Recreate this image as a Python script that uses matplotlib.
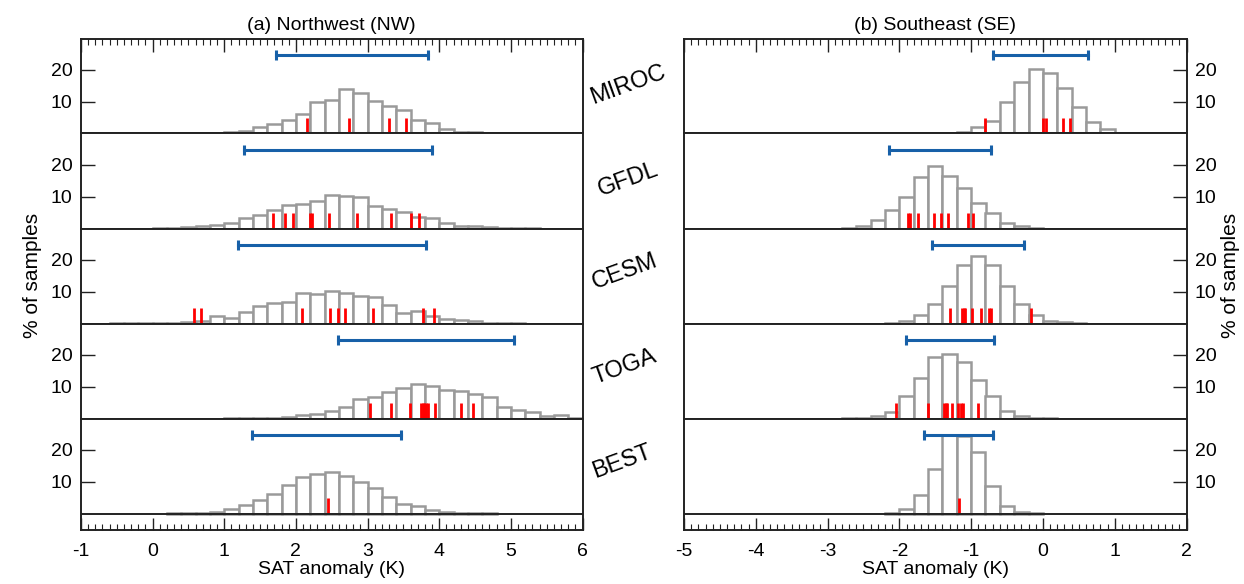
import numpy as np
import matplotlib
matplotlib.use('Agg')
import matplotlib.pyplot as plt
from matplotlib.ticker import MultipleLocator

plt.rcParams['font.family'] = ['Liberation Sans', 'DejaVu Sans']
plt.rcParams['axes.unicode_minus'] = False

MODELS = ['MIROC', 'GFDL', 'CESM', 'TOGA', 'BEST']
BIN_WIDTH = 0.2

# Northwest: first bin left edge, % of samples per bin, single runs, 5-95% range
nw_start = [0.6, 0.0, -0.6, 1.0, 0.2]
nw_miroc_pct = [0.2, 0.3, 0.5, 0.8, 2.1, 2.9, 4.3, 6.2, 9.8, 10.5, 13.8, 12.7, 10.3, 8.5,
                7.4, 4.2, 3.4, 1.3, 0.5, 0.5, 0.2, 0.2]
nw_gfdl_pct = [0.1, 0.2, 0.5, 0.8, 1.05, 1.6, 3.3, 4.1, 5.7, 7.4, 7.7, 8.7, 10.5, 10.3, 9.7,
               7.1, 6.2, 5.3, 3.7, 3.2, 1.6, 0.7, 0.8, 0.4, 0.2, 0.1, 0.1]
nw_cesm_pct = [0.1, 0.1, 0.2, 0.2, 0.2, 0.6, 0.8, 2.3, 1.6, 3.6, 5.6, 6.5, 6.7, 9.5, 9.3,
               10.2, 9.6, 8.7, 8.4, 5.8, 3.2, 3.9, 2.3, 1.4, 1.05, 0.7, 0.3, 0.2, 0.1]
nw_toga_pct = [0.1, 0.2, 0.3, 0.3, 0.4, 1.05, 1.4, 2.4, 3.5, 6.1, 6.8, 8.4, 9.5, 10.9, 10.2,
               8.9, 8.6, 7.7, 6.6, 3.6, 2.6, 1.9, 0.7, 1.05, 0.3]
nw_best_pct = [0.1, 0.1, 0.2, 0.5, 1.4, 2.8, 4.1, 6.0, 8.8, 11.5, 12.4, 13.1, 11.7, 9.9,
               8.0, 5.2, 2.9, 2.3, 1.05, 0.4, 0.3, 0.3, 0.1]
nw_miroc_runs = [2.16, 2.74, 3.30, 3.53]
nw_gfdl_runs = [1.68, 1.85, 1.96, 2.19, 2.22, 2.46, 2.85, 3.33, 3.60, 3.72]
nw_cesm_runs = [0.58, 0.67, 2.09, 2.47, 2.59, 2.69, 3.07, 3.78, 3.93]
nw_toga_runs = [3.04, 3.33, 3.59, 3.75, 3.77, 3.79, 3.81, 3.84, 3.94, 4.31, 4.47]
nw_best_runs = [2.45]
nw_ranges = [(1.72, 3.85), (1.27, 3.90), (1.19, 3.82), (2.59, 5.05), (1.39, 3.47)]

# Southeast
se_start = [-1.4, -2.8, -2.2, -2.8, -2.2]
se_miroc_pct = [0.2, 0.5, 2.1, 4.0, 10.0, 16.0, 20.1, 18.9, 14.2, 8.4, 3.7, 1.3, 0.2, 0.1, 0.2]
se_gfdl_pct = [0.3, 0.9, 2.8, 5.8, 10.0, 16.1, 19.4, 16.5, 12.8, 8.1, 4.9, 1.6, 0.8, 0.2]
se_cesm_pct = [0.2, 0.8, 2.6, 6.1, 11.8, 18.2, 21.2, 18.2, 11.6, 6.0, 2.6, 0.9, 0.4, 0.1]
se_toga_pct = [0.1, 0.2, 0.7, 2.1, 7.1, 12.6, 19.2, 20.3, 17.6, 12.1, 7.1, 2.2, 0.7, 0.3, 0.2]
se_best_pct = [0.3, 1.3, 5.8, 13.9, 24.5, 24.3, 19.3, 8.6, 2.4, 0.5, 0.1]
se_miroc_runs = [-0.81, 0.0, 0.04, 0.28, 0.38]
se_gfdl_runs = [-1.88, -1.85, -1.74, -1.52, -1.42, -1.32, -1.04, -0.97]
se_cesm_runs = [-1.29, -1.13, -1.10, -1.08, -0.99, -0.86, -0.75, -0.72, -0.16]
se_toga_runs = [-2.04, -1.60, -1.38, -1.35, -1.33, -1.27, -1.18, -1.14, -1.11, -0.91]
se_best_runs = [-1.17]
se_ranges = [(-0.69, 0.63), (-2.15, -0.73), (-1.54, -0.26), (-1.91, -0.68), (-1.66, -0.70)]

nw_pct = [nw_miroc_pct, nw_gfdl_pct, nw_cesm_pct, nw_toga_pct, nw_best_pct]
nw_runs = [nw_miroc_runs, nw_gfdl_runs, nw_cesm_runs, nw_toga_runs, nw_best_runs]
se_pct = [se_miroc_pct, se_gfdl_pct, se_cesm_pct, se_toga_pct, se_best_pct]
se_runs = [se_miroc_runs, se_gfdl_runs, se_cesm_runs, se_toga_runs, se_best_runs]

GRAY = '#9a9a9a'
BLUE = '#1760a8'
RED = '#ff0000'
SPINE = '#222222'

W, H = 1244, 584
fig = plt.figure(figsize=(W / 100, H / 100), dpi=100)

PANEL_TOP = 38.5
PANEL_H = 95.0
YTOP = 29.7
BOTTOM_PAD = 5.2
px_per_unit = PANEL_H / YTOP


def make_column(x0, x1, xlim, starts, pcts, runs, ranges, side):
    axes = []
    for i in range(5):
        top = PANEL_TOP + PANEL_H * i
        ylo = 0.0
        h = PANEL_H
        if i == 4:
            ylo = -BOTTOM_PAD
            h = PANEL_H + BOTTOM_PAD * px_per_unit
        ax = fig.add_axes([x0 / W, 1 - (top + h) / H, (x1 - x0) / W, h / H])
        lefts = starts[i] + BIN_WIDTH * np.arange(len(pcts[i]))
        ax.bar(lefts, pcts[i], width=BIN_WIDTH, align='edge', facecolor='white',
               edgecolor=GRAY, linewidth=1.8, zorder=2)
        ax.vlines(runs[i], 0, 5, color=RED, linewidth=2.0, zorder=3)
        lo, hi = ranges[i]
        ax.plot([lo, hi], [24.6, 24.6], color=BLUE, linewidth=2.2, marker='|',
                markersize=7, markeredgewidth=2.2, zorder=4)
        if i == 4:
            ax.axhline(0, color=SPINE, linewidth=1.4, zorder=5)
        ax.set_xlim(*xlim)
        ax.set_ylim(ylo, YTOP)
        ax.set_yticks([10, 20])
        for s in ax.spines.values():
            s.set_color(SPINE)
            s.set_linewidth(1.4)
        if side == 'right':
            ax.yaxis.tick_right()
        ax.tick_params(axis='y', direction='in', length=10, width=1, labelsize=14,
                       color=SPINE, pad=6)
        ax.xaxis.set_major_locator(MultipleLocator(1))
        ax.xaxis.set_minor_locator(MultipleLocator(0.1))
        if i == 0:
            ax.tick_params(axis='x', which='both', direction='in', top=True, bottom=False,
                           labelbottom=False, color=SPINE)
            ax.tick_params(axis='x', which='major', length=9, width=1)
            ax.tick_params(axis='x', which='minor', length=4, width=0.8)
        elif i == 4:
            ax.tick_params(axis='x', which='both', direction='in', top=False, bottom=True,
                           labelsize=14, color=SPINE, pad=9)
            ax.tick_params(axis='x', which='major', length=9, width=1)
            ax.tick_params(axis='x', which='minor', length=4, width=0.8)
            ax.set_xlabel('SAT anomaly (K)', fontsize=14, labelpad=1)
        else:
            ax.tick_params(axis='x', which='both', bottom=False, top=False, labelbottom=False)
        axes.append(ax)
    return axes


left_axes = make_column(81, 582.5, (-1, 6), nw_start, nw_pct, nw_runs, nw_ranges, 'left')
right_axes = make_column(684, 1186.5, (-5, 2), se_start, se_pct, se_runs, se_ranges, 'right')

left_axes[0].set_title('(a) Northwest (NW)', fontsize=14, pad=6)
right_axes[0].set_title('(b) Southeast (SE)', fontsize=14, pad=6)

fig.text(33 / W, 1 - 275 / H, '% of samples', rotation=90, fontsize=15,
         ha='center', va='center')
fig.text(1230 / W, 1 - 275 / H, '% of samples', rotation=90, fontsize=15,
         ha='center', va='center')

label_pos = [(628, 85), (628, 180), (625, 272), (625, 367), (622, 462)]
for name, (x, y) in zip(MODELS, label_pos):
    fig.text(x / W, 1 - y / H, name, rotation=20, fontsize=17,
             ha='center', va='center')

fig.savefig('out.png', dpi=100)
